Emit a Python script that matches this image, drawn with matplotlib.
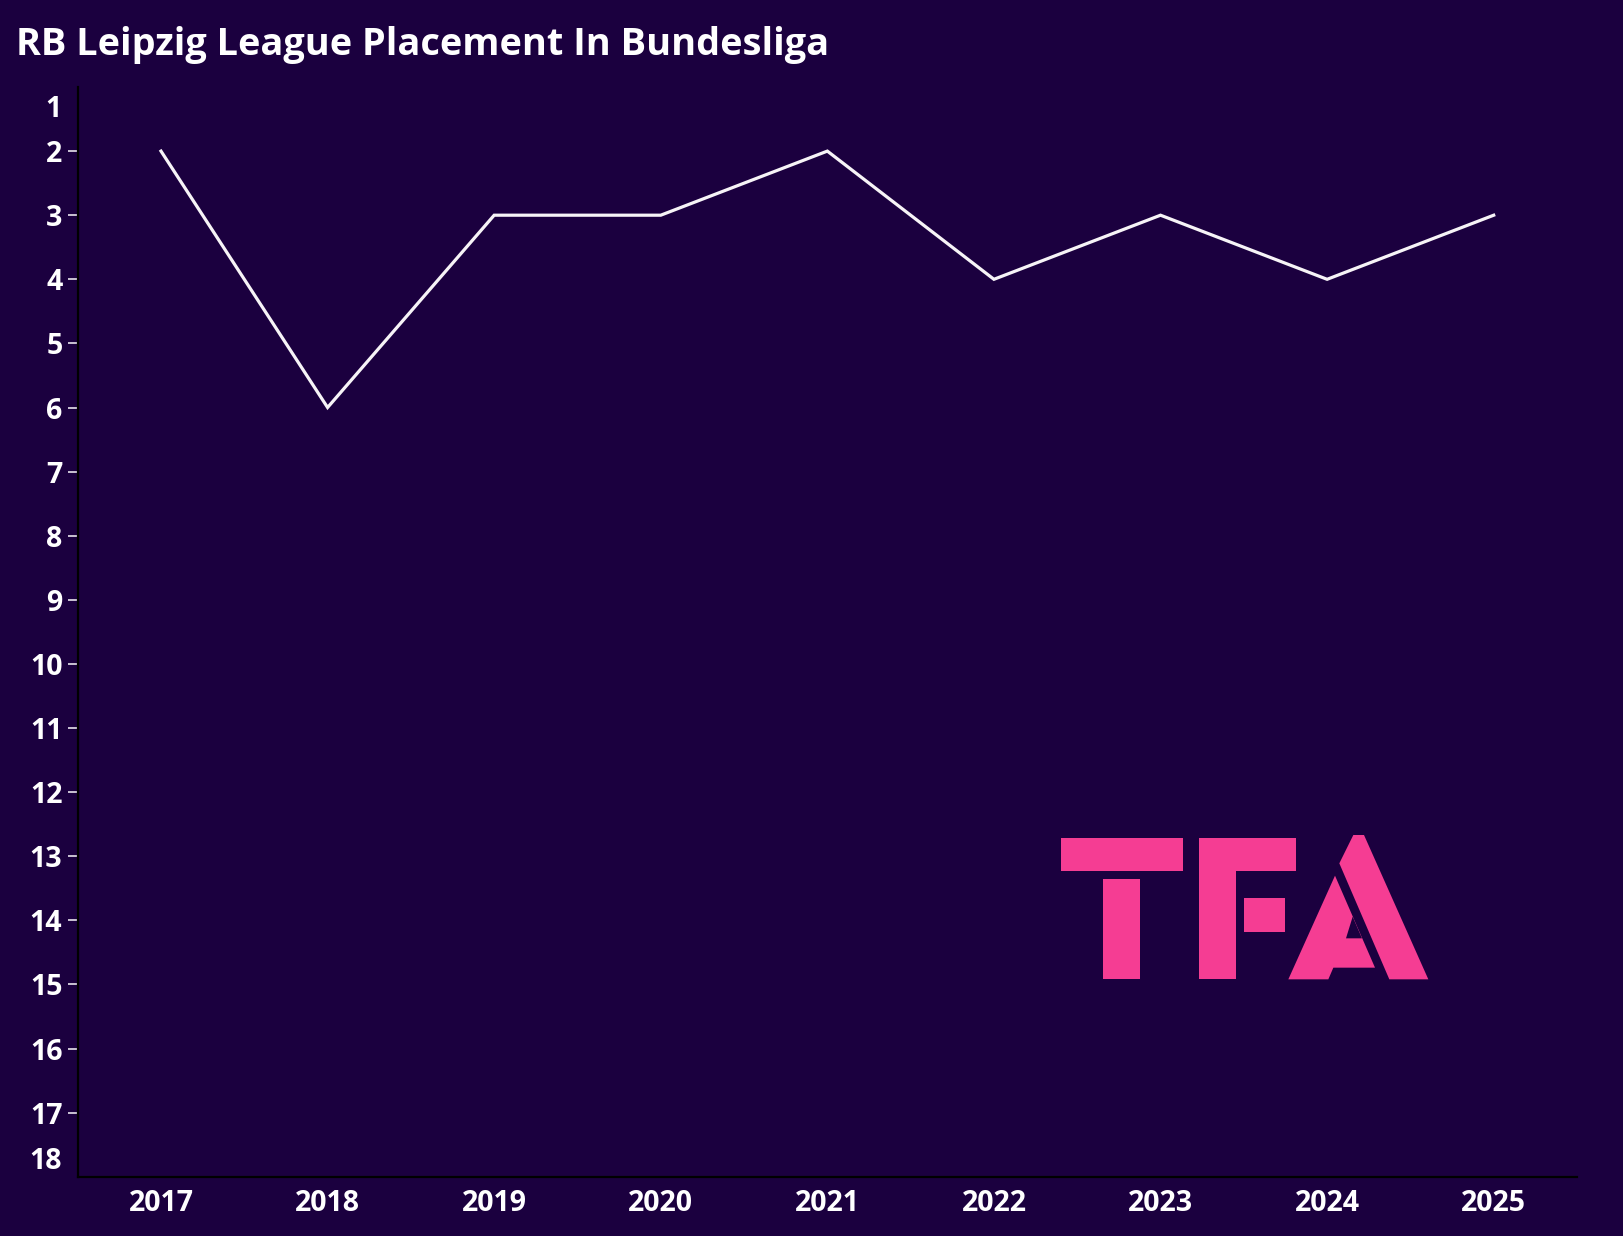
import matplotlib
matplotlib.use("Agg")
import matplotlib.pyplot as plt
from matplotlib.patches import Polygon

# ---- data ----
years = [2017, 2018, 2019, 2020, 2021, 2022, 2023, 2024, 2025]
placement = [2, 6, 3, 3, 2, 4, 3, 4, 3]
rank_ticks = list(range(2, 18))
rank_min, rank_max = 1, 18
title = "RB Leipzig League Placement In Bundesliga"

BG = "#1b003f"
PINK = "#f53d93"
W, H = 1624, 1236

plt.rcParams['font.family'] = ['Open Sans', 'DejaVu Sans']
plt.rcParams['font.weight'] = 'bold'

fig = plt.figure(figsize=(W / 100, H / 100), dpi=100, facecolor=BG)
ax = fig.add_axes([77.7 / W, 1 - 1176.7 / H, (1577 - 77.7) / W, (1176.7 - 87) / H])
ax.set_facecolor(BG)

ax.plot(years, placement, color="#f7f4f7", lw=2.3, solid_joinstyle='miter')

ax.set_xlim(years[0] - 0.5, years[-1] + 0.5)
ax.set_ylim(rank_max, rank_min)
ax.set_xticks(years)
ax.set_xticklabels([str(y) for y in years])
ax.set_yticks(rank_ticks)
ax.set_yticklabels([str(r) for r in rank_ticks])
# end labels (1 and 18) drawn slightly inside the axis range, without tick marks
ax.set_yticks([rank_min + 0.29, rank_max - 0.29], minor=True)
ax.set_yticklabels([str(rank_min), str(rank_max)], minor=True)

for s in ['top', 'right']:
    ax.spines[s].set_visible(False)
for s in ['left', 'bottom']:
    ax.spines[s].set_color('black')
    ax.spines[s].set_linewidth(1.6)

LS = 20.5
ax.tick_params(axis='y', which='major', direction='out', length=7, width=1.2,
               color='#e8e4ec', pad=4, labelsize=LS, labelcolor='white')
ax.tick_params(axis='y', which='minor', length=0, pad=11.5, labelsize=LS,
               labelcolor='white')
ax.tick_params(axis='x', length=0, pad=9, labelsize=LS, labelcolor='white')
for lab in ax.get_xticklabels() + ax.get_yticklabels() + ax.get_yticklabels(minor=True):
    lab.set_fontweight('bold')

fig.text(16 / W, 1 - 55 / H, title, color='white', fontsize=27.3, fontweight='bold',
         ha='left', va='baseline')

# ---- TFA logo (decorative) ----
def px(pts):
    return [(x / W, 1 - y / H) for x, y in pts]

def zp(pts):
    # zoom-crop coordinates -> full pixel coordinates
    return [(1040 + x / 3, 820 + y / 3) for x, y in pts]

shapes = [
    # T
    [(1060.7, 837.7), (1182.7, 837.7), (1182.7, 871), (1060.7, 871)],
    [(1103.3, 879.3), (1140, 879.3), (1140, 979.3), (1103.3, 979.3)],
    # F
    [(1199.3, 837.7), (1295.7, 837.7), (1295.7, 871), (1236, 871), (1236, 979.3), (1199.3, 979.3)],
    [(1244, 898.3), (1285, 898.3), (1285, 931.7), (1244, 931.7)],
    # A right stroke
    zp([(940, 45), (972, 45), (1165, 478), (1048, 478), (898, 130)]),
    # A left stroke with crossbar
    zp([(885, 167), (1005, 443), (880, 443), (865, 478), (745, 478)]),
]
for sh in shapes:
    fig.add_artist(Polygon(px(sh), closed=True, facecolor=PINK, edgecolor='none'))
# A counter
fig.add_artist(Polygon(px(zp([(938, 290), (966, 355), (918, 355)])), closed=True,
                       facecolor=BG, edgecolor='none'))

fig.savefig("out.png", dpi=100, facecolor=BG)
